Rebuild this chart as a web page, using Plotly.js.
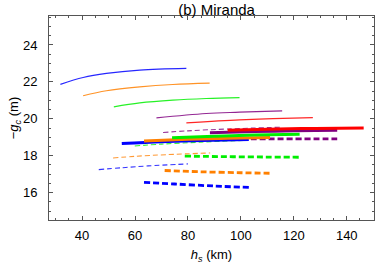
<!DOCTYPE html>
<html><head><meta charset="utf-8">
<script src="https://cdn.plot.ly/plotly-3.0.1.min.js"></script>
<style>html,body{margin:0;padding:0;background:#fff}#c{width:380px;height:273px}</style>
</head><body><div id="c"></div>
<script>
// Colours per family
const names = ["blue","orange","green","purple","red"];
const colors = {blue:"#0000ff",orange:"#ff8000",green:"#00ee00",purple:"#800080",red:"#ff0000"};

// Thin solid curves
const thinSolidX = {
  blue:[31.8,40.4,49.2,61.8,79.4],
  orange:[40.4,49.2,61.8,74.3,88.2],
  green:[52.0,61.8,74.3,86.9,99.5],
  purple:[68.1,86.9,99.5,115.6],
  red:[79.4,99.5,112.1,127.2]
};
const thinSolidY = {
  blue:[21.87,22.24,22.46,22.64,22.73],
  orange:[21.25,21.52,21.73,21.86,21.93],
  green:[20.65,20.86,21.01,21.10,21.15],
  purple:[20.05,20.29,20.36,20.43],
  red:[19.78,19.94,20.01,20.07]
};
// Thick solid curves
const thickSolidX = {
  blue:[55.0,70,85,103],
  orange:[63.4,80,95,111],
  green:[74.0,90,105,122.2],
  purple:[88.3,105,120,136.4],
  red:[95.0,110,128,146.4]
};
const thickSolidY = {
  blue:[18.66,18.76,18.83,18.88],
  orange:[18.80,18.89,18.95,18.99],
  green:[18.97,19.06,19.12,19.17],
  purple:[19.25,19.31,19.35,19.38],
  red:[19.38,19.44,19.48,19.51]
};
// Thin dashed curves
const thinDashX = {
  blue:[46.3,55,65,80],
  orange:[51.7,60,72,88.4],
  green:[59.9,70,85,101],
  purple:[70.6,80,95,115.7]
};
const thinDashY = {
  blue:[17.25,17.35,17.45,17.56],
  orange:[17.88,17.97,18.06,18.15],
  green:[18.53,18.63,18.74,18.83],
  purple:[19.26,19.35,19.45,19.55]
};
// Thick dashed curves
const thickDashX = {
  blue:[63.4,75,90,103.5],
  orange:[71.2,85,100,111.7],
  green:[78.8,95,110,122.2],
  purple:[90.1,105,120,136.4]
};
const thickDashY = {
  blue:[16.56,16.47,16.36,16.28],
  orange:[17.20,17.13,17.08,17.05],
  green:[17.98,17.95,17.93,17.92],
  purple:[18.91,18.91,18.91,18.91]
};

const traces = [];
function add(X, Y, width, dash, opacity){
  names.forEach(n => {
    if (!X[n]) return;
    traces.push({x:X[n], y:Y[n], type:'scatter', mode:'lines',
      line:{color:colors[n], width:width, dash:dash, shape:'spline'},
      opacity:opacity, hoverinfo:'skip', showlegend:false});
  });
}
add(thickDashX, thickDashY, 2.8, '6px,3px', 1);
add(thinDashX, thinDashY, 1.1, '5px,3px', 0.8);
add(thickSolidX, thickSolidY, 3, 'solid', 1);
add(thinSolidX, thinSolidY, 1.2, 'solid', 0.85);

const fam = 'Liberation Sans, Arial, sans-serif';
const layout = {
  width:380, height:273,
  margin:{l:49, r:6, t:16, b:53},
  paper_bgcolor:'#fff', plot_bgcolor:'#fff',
  font:{family:fam, size:13, color:'#000'},
  title:{text:'(b) Miranda', x:0.57, xanchor:'center', xref:'container',
    yref:'paper', y:1, yanchor:'bottom', pad:{b:1}, font:{family:fam,size:15,color:'#000'}},
  xaxis:{range:[27.5,150.3], tickvals:[40,60,80,100,120,140], ticks:'inside', ticklen:4, tickcolor:'#555',
    tickfont:{family:fam,size:13,color:'#000'},
    minor:{dtick:5, tick0:0, ticks:'inside', ticklen:2, tickcolor:'#555'},
    showline:true, linecolor:'#555', linewidth:1, mirror:'allticks', showgrid:false, zeroline:false,
    ticklabelstandoff:3,
    title:{text:'<i>h</i><sub><i>s</i></sub> (km)', standoff:8, font:{family:fam,size:13,color:'#000'}}},
  yaxis:{range:[14.52,25.57], tickvals:[16,18,20,22,24], ticks:'inside', ticklen:4, tickcolor:'#555',
    tickfont:{family:fam,size:13,color:'#000'},
    minor:{dtick:0.5, tick0:0, ticks:'inside', ticklen:2, tickcolor:'#555'},
    showline:true, linecolor:'#555', linewidth:1, mirror:'allticks', showgrid:false, zeroline:false,
    ticklabelstandoff:8,
    title:{text:'\u2212<i>g</i><sub><i>c</i></sub> (m)', standoff:1, font:{family:fam,size:13,color:'#000'}}}
};
Plotly.newPlot('c', traces, layout, {staticPlot:true, displayModeBar:false});
</script>
</body></html>
